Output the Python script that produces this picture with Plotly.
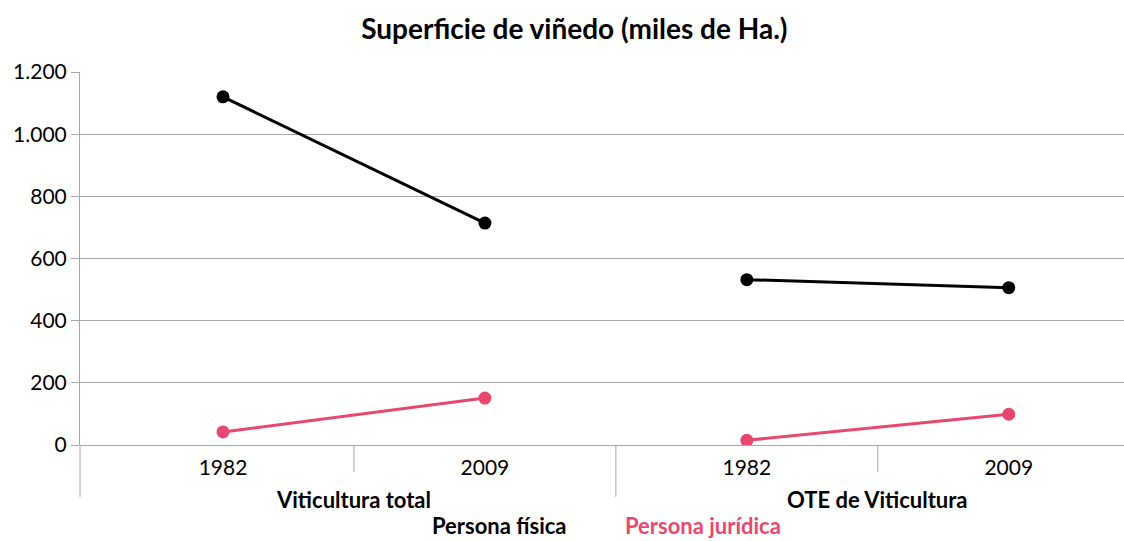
"""
Superficie de viñedo: persona física vs persona jurídica.
"""

import plotly.graph_objects as go

# Datos
grupos = ["Viticultura total", "OTE de Viticultura"]
anios = ["1982", "2009"]
persona_fisica = [[1120, 714], [532, 506]]
persona_juridica = [[42, 151], [15, 99]]

NEGRO = "#000000"
ROSA = "#E8486F"
GRIS = "#a6a6a6"
FUENTE = "Lato"

# Posición de cada categoría en el eje (grupo, año)
n = len(anios)
posiciones = [[g * n + i for i in range(n)] for g in range(len(grupos))]

fig = go.Figure()

series = [
    ("Persona física", persona_fisica, NEGRO),
    ("Persona jurídica", persona_juridica, ROSA),
]

# Una traza por grupo para que la línea se corte entre grupos
for nombre, valores, color in series:
    for pos, vals in zip(posiciones, valores):
        fig.add_trace(go.Scatter(
            x=pos,
            y=vals,
            mode="lines+markers",
            name=nombre,
            line=dict(color=color, width=3),
            marker=dict(color=color, size=13),
            showlegend=False,
        ))

# Marcas del eje de categorías: cortas entre años, largas entre grupos
total = len(grupos) * n
for k in range(1, total):
    largo = 0.139 if k % n == 0 else 0.072
    fig.add_shape(type="line", xref="x", yref="paper",
                  x0=k - 0.5, x1=k - 0.5, y0=0, y1=-largo,
                  line=dict(color=GRIS, width=1))
# Prolongación del eje vertical bajo el cero
fig.add_shape(type="line", xref="paper", yref="paper",
              x0=0, x1=0, y0=0, y1=-0.139,
              line=dict(color=GRIS, width=1))

# Etiquetas de grupo
for pos, grupo in zip(posiciones, grupos):
    fig.add_annotation(
        text=f"<b>{grupo}</b>",
        x=sum(pos) / len(pos), y=-0.145, xref="x", yref="paper",
        xanchor="center", yanchor="middle",
        showarrow=False,
        font=dict(family=FUENTE, size=22, color="#000"),
    )

# Leyenda como texto coloreado
for nombre, x, color in [("Persona física", 0.402, NEGRO), ("Persona jurídica", 0.597, ROSA)]:
    fig.add_annotation(
        text=f"<b>{nombre}</b>",
        x=x, y=-0.217, xref="paper", yref="paper",
        xanchor="center", yanchor="middle",
        showarrow=False,
        font=dict(family=FUENTE, size=22, color=color),
    )

fig.update_layout(
    title=dict(
        text="<b>Superficie de viñedo (miles de Ha.)</b>",
        x=0.511, xanchor="center", y=0.946, yanchor="middle",
        font=dict(family=FUENTE, size=28, color="#000"),
    ),
    width=1124, height=541,
    margin=dict(l=80, r=0, t=72, b=96),
    plot_bgcolor="white",
    paper_bgcolor="white",
    separators=",.",
    font=dict(family=FUENTE, size=21, color="#000"),
)

fig.update_xaxes(
    range=[-0.546, 3.44],
    tickvals=[p for pos in posiciones for p in pos],
    ticktext=anios * len(grupos),
    automargin=False,
    showgrid=False,
    zeroline=False,
    ticks="",
    ticklabelstandoff=8,
    showline=False,
    tickfont=dict(family=FUENTE, size=21, color="#000"),
)

fig.update_yaxes(
    range=[0, 1200],
    dtick=200,
    tickformat=",d",
    automargin=False,
    showgrid=True,
    gridcolor=GRIS,
    gridwidth=1,
    showline=True,
    linecolor=GRIS,
    ticks="outside",
    ticklen=8,
    tickcolor=GRIS,
    zeroline=True,
    zerolinecolor=GRIS,
    zerolinewidth=1,
    tickfont=dict(family=FUENTE, size=21, color="#000"),
)

# Sin margen del body para que la figura ocupe toda la ventana
fig.write_html(
    "out.html",
    config={"displayModeBar": False},
    post_script="document.body.style.margin = '0'; document.body.style.overflow = 'hidden';",
)
